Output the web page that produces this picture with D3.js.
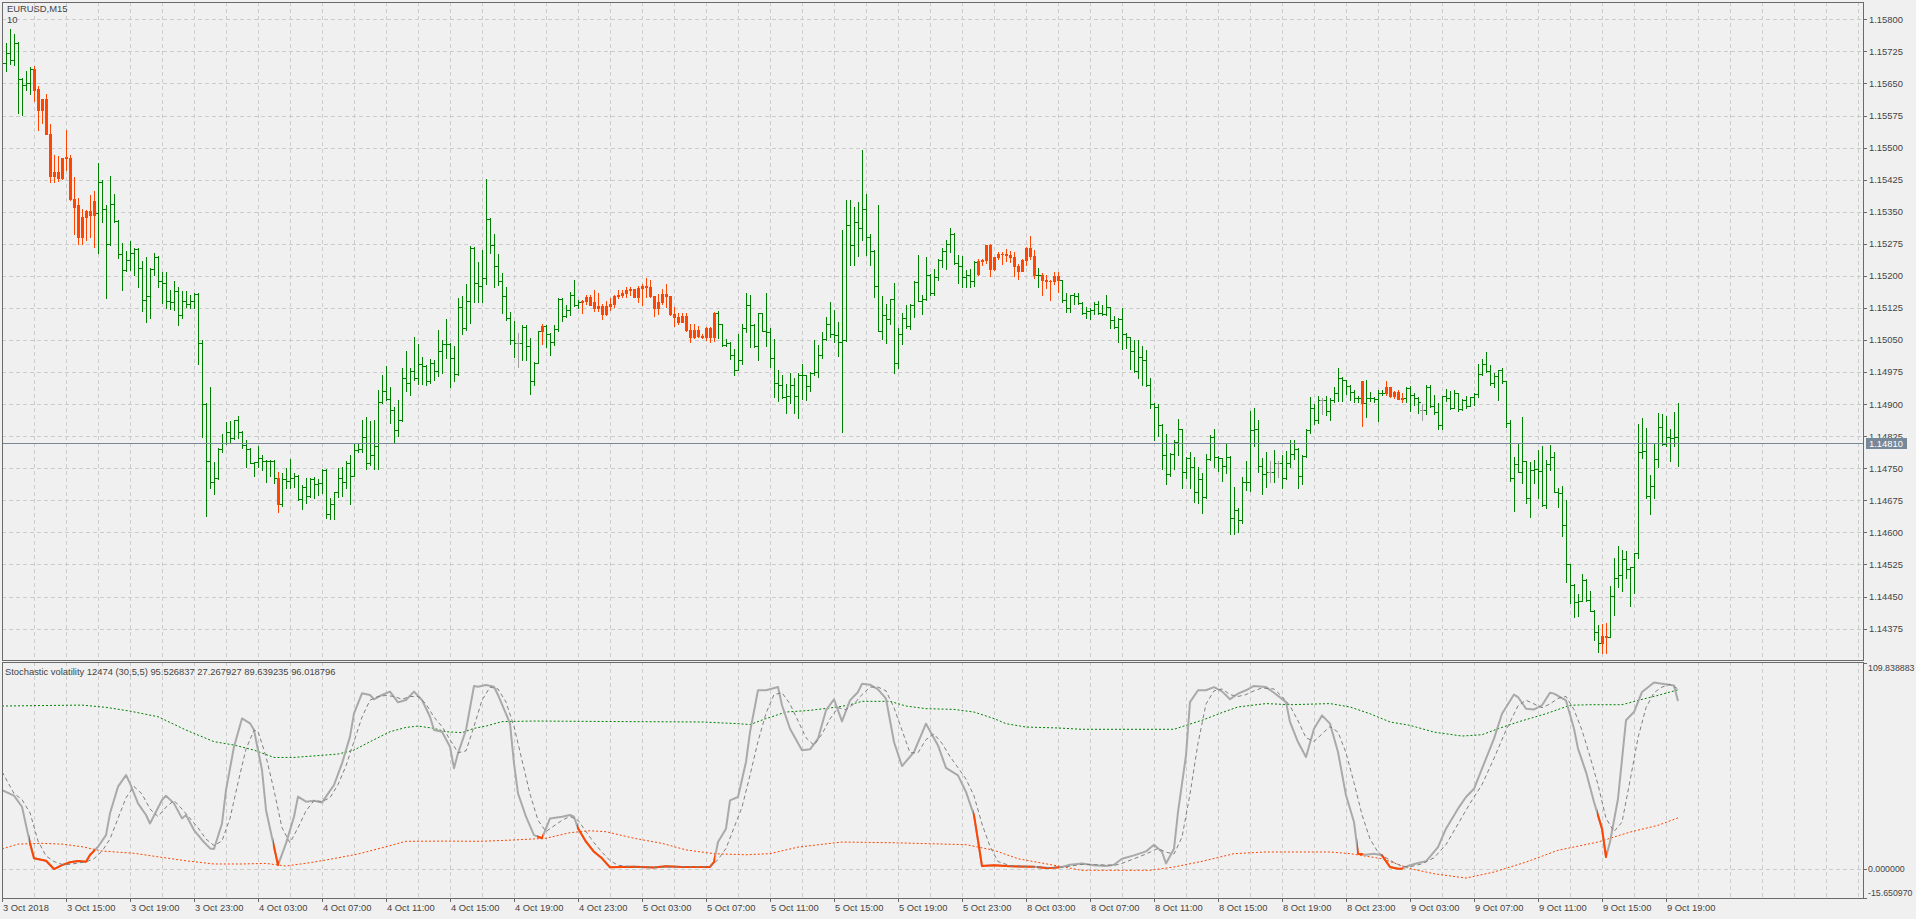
<!DOCTYPE html>
<html><head><meta charset="utf-8">
<script src="https://cdn.jsdelivr.net/npm/d3@7"></script>
<style>
html,body{margin:0;padding:0;background:#f0f0f0;overflow:hidden}
svg{display:block;font-family:"Liberation Sans",Arial,sans-serif}
</style></head><body>
<svg id="c" width="1916" height="919"></svg>
<script>
// ---------------- DATA ----------------
const symbolTitle = "EURUSD,M15";
const subTitle = "10";
const timeLabels = ["3 Oct 2018","3 Oct 15:00","3 Oct 19:00","3 Oct 23:00","4 Oct 03:00","4 Oct 07:00","4 Oct 11:00","4 Oct 15:00","4 Oct 19:00","4 Oct 23:00","5 Oct 03:00","5 Oct 07:00","5 Oct 11:00","5 Oct 15:00","5 Oct 19:00","5 Oct 23:00","8 Oct 03:00","8 Oct 07:00","8 Oct 11:00","8 Oct 15:00","8 Oct 19:00","8 Oct 23:00","9 Oct 03:00","9 Oct 07:00","9 Oct 11:00","9 Oct 15:00","9 Oct 19:00"];
const timeLabelBars = [0,16,32,48,64,80,96,112,128,144,160,176,192,208,224,240,256,272,288,304,320,336,352,368,384,400,416];
const priceTicks = [1.15800,1.15725,1.15650,1.15575,1.15500,1.15425,1.15350,1.15275,1.15200,1.15125,1.15050,1.14975,1.14900,1.14825,1.14750,1.14675,1.14600,1.14525,1.14450,1.14375];
const lastPrice = 1.14810;

const open = [
1.15693,1.15697,1.15722,1.15705,1.15744,1.15660,1.15646,1.15650,1.15684,1.15637,
1.15588,1.15614,1.15532,1.15434,1.15444,1.15430,1.15475,1.15475,1.15379,1.15366,
1.15290,1.15338,1.15352,1.15343,1.15346,1.15420,1.15356,1.15275,1.15367,1.15328,
1.15252,1.15213,1.15237,1.15253,1.15262,1.15218,1.15143,1.15152,1.15215,1.15243,
1.15189,1.15183,1.15141,1.15140,1.15165,1.15108,1.15142,1.15135,1.15141,1.15157,
1.15042,1.14900,1.14766,1.14717,1.14727,1.14795,1.14809,1.14836,1.14820,1.14863,
1.14836,1.14805,1.14795,1.14762,1.14764,1.14775,1.14768,1.14766,1.14767,1.14728,
1.14666,1.14724,1.14721,1.14727,1.14732,1.14678,1.14707,1.14686,1.14724,1.14713,
1.14715,1.14746,1.14643,1.14666,1.14694,1.14727,1.14717,1.14762,1.14733,1.14793,
1.14794,1.14824,1.14762,1.14780,1.14803,1.14904,1.14931,1.14912,1.14887,1.14840,
1.14863,1.14962,1.14949,1.14978,1.14962,1.14993,1.14990,1.14953,1.14996,1.14978,
1.15024,1.15040,1.15041,1.15007,1.14970,1.15127,1.15079,1.15141,1.15265,1.15184,
1.15177,1.15194,1.15333,1.15272,1.15224,1.15189,1.15154,1.15102,1.15050,1.15042,
1.15042,1.15081,1.15036,1.14954,1.14997,1.15070,1.15083,1.15063,1.15046,1.15075,
1.15145,1.15106,1.15121,1.15155,1.15131,1.15138,1.15141,1.15151,1.15138,1.15124,
1.15129,1.15110,1.15129,1.15134,1.15153,1.15156,1.15159,1.15166,1.15169,1.15151,
1.15172,1.15176,1.15174,1.15152,1.15125,1.15138,1.15157,1.15152,1.15110,1.15104,
1.15092,1.15106,1.15073,1.15056,1.15073,1.15059,1.15058,1.15077,1.15056,1.15113,
1.15087,1.15038,1.15043,1.15016,1.14981,1.15003,1.15077,1.15131,1.15086,1.15035,
1.15112,1.15072,1.15069,1.15009,1.14950,1.14944,1.14917,1.14919,1.14944,1.14920,
1.14968,1.14967,1.14942,1.14972,1.14974,1.15014,1.15053,1.15088,1.15063,1.15061,
1.15046,1.15050,1.15318,1.15273,1.15326,1.15312,1.15357,1.15291,1.15258,1.15177,
1.15072,1.15108,1.15099,1.15145,1.14997,1.15065,1.15102,1.15082,1.15131,1.15186,
1.15142,1.15145,1.15203,1.15159,1.15198,1.15238,1.15258,1.15274,1.15299,1.15229,
1.15223,1.15198,1.15201,1.15187,1.15205,1.15234,1.15238,1.15272,1.15215,1.15243,
1.15252,1.15250,1.15248,1.15244,1.15223,1.15212,1.15237,1.15266,1.15247,1.15201,
1.15202,1.15190,1.15187,1.15188,1.15199,1.15190,1.15143,1.15126,1.15155,1.15153,
1.15137,1.15113,1.15118,1.15121,1.15134,1.15112,1.15110,1.15127,1.15096,1.15081,
1.15099,1.15064,1.15056,1.15025,1.14978,1.15011,1.15003,1.14944,1.14900,1.14894,
1.14851,1.14781,1.14736,1.14783,1.14812,1.14841,1.14741,1.14775,1.14754,1.14694,
1.14724,1.14682,1.14772,1.14822,1.14776,1.14773,1.14755,1.14777,1.14633,1.14653,
1.14628,1.14717,1.14719,1.14840,1.14843,1.14755,1.14737,1.14742,1.14742,1.14762,
1.14762,1.14727,1.14762,1.14783,1.14794,1.14732,1.14779,1.14840,1.14890,1.14863,
1.14910,1.14910,1.14884,1.14910,1.14927,1.14960,1.14956,1.14943,1.14929,1.14915,
1.14953,1.14903,1.14914,1.14915,1.14911,1.14925,1.14927,1.14939,1.14920,1.14928,
1.14912,1.14914,1.14937,1.14921,1.14914,1.14886,1.14886,1.14939,1.14895,1.14881,
1.14851,1.14918,1.14914,1.14892,1.14925,1.14888,1.14910,1.14896,1.14916,1.14924,
1.14970,1.14995,1.14978,1.14949,1.14966,1.14980,1.14953,1.14855,1.14727,1.14759,
1.14742,1.14766,1.14680,1.14746,1.14748,1.14744,1.14664,1.14760,1.14776,1.14695,
1.14693,1.14617,1.14525,1.14477,1.14438,1.14440,1.14489,1.14442,1.14417,1.14366,
1.14341,1.14358,1.14356,1.14452,1.14493,1.14500,1.14537,1.14514,1.14518,1.14551,
1.14789,1.14791,1.14685,1.14709,1.14771,1.14847,1.14806,1.14824,1.14820,1.14822];

const high = [
1.15717,1.15744,1.15777,1.15766,1.15746,1.15662,1.15679,1.15688,1.15691,1.15644,
1.15614,1.15625,1.15555,1.15483,1.15480,1.15475,1.15540,1.15483,1.15431,1.15383,
1.15357,1.15354,1.15389,1.15399,1.15465,1.15424,1.15366,1.15434,1.15391,1.15330,
1.15276,1.15257,1.15282,1.15265,1.15266,1.15235,1.15243,1.15218,1.15253,1.15247,
1.15208,1.15208,1.15166,1.15189,1.15173,1.15165,1.15165,1.15155,1.15161,1.15159,
1.15050,1.14902,1.14939,1.14764,1.14797,1.14830,1.14858,1.14861,1.14863,1.14873,
1.14838,1.14815,1.14797,1.14764,1.14802,1.14781,1.14770,1.14770,1.14769,1.14742,
1.14738,1.14750,1.14771,1.14738,1.14734,1.14710,1.14728,1.14728,1.14730,1.14724,
1.14748,1.14748,1.14680,1.14694,1.14750,1.14752,1.14766,1.14780,1.14806,1.14806,
1.14863,1.14871,1.14861,1.14862,1.14933,1.14968,1.14989,1.14939,1.14894,1.14910,
1.14985,1.15024,1.14985,1.15056,1.15040,1.15011,1.14992,1.15005,1.15003,1.15074,
1.15050,1.15098,1.15042,1.15037,1.15148,1.15153,1.15180,1.15270,1.15267,1.15233,
1.15261,1.15426,1.15335,1.15297,1.15250,1.15206,1.15175,1.15116,1.15095,1.15066,
1.15085,1.15085,1.15054,1.14999,1.15071,1.15087,1.15085,1.15066,1.15085,1.15149,
1.15149,1.15131,1.15163,1.15191,1.15143,1.15143,1.15155,1.15155,1.15168,1.15159,
1.15134,1.15141,1.15149,1.15155,1.15168,1.15166,1.15174,1.15174,1.15170,1.15176,
1.15180,1.15194,1.15191,1.15153,1.15157,1.15170,1.15180,1.15154,1.15127,1.15112,
1.15113,1.15112,1.15088,1.15088,1.15083,1.15063,1.15081,1.15081,1.15116,1.15117,
1.15088,1.15053,1.15046,1.15028,1.15065,1.15088,1.15159,1.15155,1.15088,1.15114,
1.15113,1.15159,1.15079,1.15053,1.14981,1.14968,1.14946,1.14972,1.14962,1.14973,
1.14995,1.14969,1.14974,1.15050,1.15038,1.15069,1.15104,1.15140,1.15121,1.15092,
1.15308,1.15377,1.15378,1.15361,1.15373,1.15494,1.15392,1.15297,1.15260,1.15365,
1.15152,1.15134,1.15146,1.15184,1.15077,1.15114,1.15133,1.15135,1.15188,1.15248,
1.15155,1.15243,1.15205,1.15215,1.15240,1.15264,1.15283,1.15311,1.15300,1.15248,
1.15247,1.15213,1.15217,1.15234,1.15239,1.15240,1.15273,1.15275,1.15244,1.15256,
1.15256,1.15262,1.15258,1.15255,1.15227,1.15240,1.15268,1.15293,1.15261,1.15219,
1.15207,1.15203,1.15191,1.15208,1.15208,1.15191,1.15159,1.15156,1.15160,1.15159,
1.15138,1.15127,1.15124,1.15139,1.15141,1.15133,1.15155,1.15128,1.15106,1.15102,
1.15126,1.15066,1.15058,1.15050,1.15050,1.15036,1.15027,1.14960,1.14902,1.14900,
1.14853,1.14830,1.14785,1.14816,1.14865,1.14843,1.14776,1.14789,1.14777,1.14754,
1.14738,1.14783,1.14829,1.14842,1.14779,1.14775,1.14807,1.14779,1.14707,1.14656,
1.14730,1.14766,1.14885,1.14890,1.14864,1.14775,1.14787,1.14766,1.14793,1.14766,
1.14781,1.14791,1.14815,1.14816,1.14797,1.14780,1.14843,1.14917,1.14900,1.14919,
1.14914,1.14919,1.14914,1.14939,1.14985,1.14963,1.14957,1.14945,1.14933,1.14919,
1.14955,1.14956,1.14929,1.14917,1.14933,1.14932,1.14953,1.14941,1.14931,1.14933,
1.14925,1.14939,1.14942,1.14925,1.14917,1.14900,1.14945,1.14945,1.14921,1.14902,
1.14919,1.14935,1.14931,1.14933,1.14927,1.14911,1.14919,1.14917,1.14927,1.14995,
1.15005,1.15023,1.14992,1.14972,1.14981,1.14984,1.14955,1.14863,1.14777,1.14806,
1.14869,1.14768,1.14764,1.14769,1.14793,1.14803,1.14769,1.14805,1.14787,1.14703,
1.14709,1.14676,1.14527,1.14479,1.14455,1.14502,1.14490,1.14463,1.14419,1.14384,
1.14386,1.14389,1.14475,1.14540,1.14568,1.14560,1.14557,1.14519,1.14553,1.14854,
1.14867,1.14845,1.14734,1.14807,1.14879,1.14877,1.14872,1.14842,1.14882,1.14902];

const low = [
1.15674,1.15678,1.15696,1.15692,1.15580,1.15576,1.15635,1.15625,1.15609,1.15541,
1.15558,1.15531,1.15420,1.15420,1.15423,1.15427,1.15448,1.15378,1.15298,1.15275,
1.15275,1.15284,1.15292,1.15268,1.15254,1.15327,1.15149,1.15272,1.15327,1.15241,
1.15167,1.15211,1.15214,1.15202,1.15175,1.15118,1.15091,1.15102,1.15202,1.15173,
1.15137,1.15124,1.15122,1.15120,1.15085,1.15101,1.15128,1.15126,1.15126,1.14994,
1.14822,1.14639,1.14705,1.14690,1.14725,1.14789,1.14807,1.14809,1.14818,1.14820,
1.14798,1.14754,1.14762,1.14732,1.14754,1.14745,1.14717,1.14731,1.14715,1.14647,
1.14662,1.14703,1.14703,1.14707,1.14676,1.14654,1.14668,1.14684,1.14680,1.14688,
1.14693,1.14633,1.14632,1.14632,1.14682,1.14685,1.14705,1.14666,1.14733,1.14789,
1.14789,1.14748,1.14758,1.14748,1.14748,1.14902,1.14910,1.14857,1.14812,1.14826,
1.14861,1.14931,1.14922,1.14957,1.14946,1.14947,1.14945,1.14950,1.14957,1.14966,
1.14972,1.15007,1.14941,1.14953,1.14968,1.15063,1.15074,1.15089,1.15138,1.15138,
1.15140,1.15180,1.15253,1.15173,1.15179,1.15113,1.15097,1.15040,1.15011,1.14986,
1.15003,1.15003,1.14923,1.14945,1.14996,1.15040,1.15034,1.15015,1.15038,1.15071,
1.15095,1.15104,1.15108,1.15129,1.15124,1.15113,1.15134,1.15131,1.15118,1.15117,
1.15099,1.15109,1.15120,1.15127,1.15148,1.15151,1.15151,1.15155,1.15150,1.15139,
1.15131,1.15151,1.15151,1.15106,1.15110,1.15135,1.15127,1.15108,1.15083,1.15088,
1.15091,1.15071,1.15046,1.15054,1.15057,1.15055,1.15050,1.15046,1.15047,1.15055,
1.15035,1.15035,1.15005,1.14969,1.14979,1.14993,1.15069,1.15034,1.15034,1.15004,
1.15071,1.15035,1.14987,1.14917,1.14908,1.14915,1.14880,1.14903,1.14880,1.14868,
1.14913,1.14909,1.14931,1.14968,1.14964,1.15009,1.15051,1.15057,1.15046,1.15012,
1.14835,1.15048,1.15226,1.15225,1.15246,1.15283,1.15248,1.15225,1.15151,1.15071,
1.15052,1.15044,1.15088,1.14973,1.14985,1.15040,1.15079,1.15075,1.15104,1.15141,
1.15110,1.15144,1.15155,1.15156,1.15190,1.15221,1.15216,1.15256,1.15227,1.15184,
1.15174,1.15174,1.15174,1.15177,1.15203,1.15225,1.15230,1.15199,1.15213,1.15239,
1.15227,1.15235,1.15233,1.15200,1.15193,1.15211,1.15225,1.15239,1.15195,1.15174,
1.15155,1.15172,1.15143,1.15182,1.15163,1.15138,1.15116,1.15116,1.15134,1.15135,
1.15110,1.15102,1.15099,1.15110,1.15110,1.15108,1.15108,1.15079,1.15077,1.15046,
1.15028,1.15031,1.14982,1.14976,1.14960,1.14945,1.14943,1.14892,1.14816,1.14826,
1.14748,1.14713,1.14733,1.14748,1.14781,1.14705,1.14727,1.14703,1.14672,1.14668,
1.14646,1.14681,1.14769,1.14752,1.14744,1.14721,1.14738,1.14596,1.14596,1.14602,
1.14623,1.14699,1.14698,1.14801,1.14742,1.14691,1.14707,1.14719,1.14719,1.14730,
1.14705,1.14726,1.14754,1.14771,1.14705,1.14713,1.14777,1.14832,1.14853,1.14855,
1.14878,1.14875,1.14864,1.14906,1.14907,1.14907,1.14923,1.14910,1.14904,1.14906,
1.14850,1.14871,1.14908,1.14906,1.14861,1.14921,1.14921,1.14917,1.14914,1.14911,
1.14906,1.14906,1.14884,1.14898,1.14880,1.14863,1.14878,1.14894,1.14878,1.14843,
1.14842,1.14908,1.14889,1.14890,1.14884,1.14886,1.14890,1.14895,1.14898,1.14917,
1.14968,1.14974,1.14945,1.14941,1.14910,1.14950,1.14847,1.14721,1.14650,1.14741,
1.14716,1.14668,1.14637,1.14715,1.14681,1.14662,1.14658,1.14746,1.14694,1.14660,
1.14592,1.14485,1.14436,1.14403,1.14405,1.14439,1.14440,1.14416,1.14348,1.14321,
1.14319,1.14319,1.14355,1.14407,1.14473,1.14464,1.14493,1.14428,1.14459,1.14541,
1.14775,1.14680,1.14642,1.14680,1.14754,1.14805,1.14802,1.14768,1.14802,1.14755];

const close = [
1.15697,1.15722,1.15705,1.15744,1.15660,1.15646,1.15650,1.15684,1.15635,1.15588,
1.15614,1.15531,1.15434,1.15444,1.15430,1.15475,1.15477,1.15379,1.15362,1.15290,
1.15338,1.15352,1.15343,1.15375,1.15420,1.15356,1.15275,1.15367,1.15328,1.15252,
1.15213,1.15237,1.15253,1.15262,1.15218,1.15143,1.15152,1.15215,1.15243,1.15189,
1.15183,1.15141,1.15140,1.15165,1.15108,1.15142,1.15135,1.15141,1.15157,1.15042,
1.14900,1.14766,1.14717,1.14727,1.14795,1.14809,1.14836,1.14820,1.14863,1.14836,
1.14805,1.14795,1.14762,1.14764,1.14775,1.14768,1.14766,1.14767,1.14727,1.14666,
1.14724,1.14721,1.14727,1.14732,1.14678,1.14707,1.14686,1.14724,1.14713,1.14715,
1.14746,1.14643,1.14666,1.14694,1.14727,1.14717,1.14762,1.14733,1.14793,1.14794,
1.14824,1.14762,1.14780,1.14803,1.14904,1.14931,1.14912,1.14887,1.14840,1.14863,
1.14962,1.14949,1.14978,1.14962,1.14993,1.14990,1.14953,1.14996,1.14978,1.15024,
1.15040,1.15041,1.15007,1.14970,1.15127,1.15079,1.15141,1.15265,1.15184,1.15177,
1.15194,1.15333,1.15272,1.15224,1.15189,1.15154,1.15102,1.15050,1.15042,1.15042,
1.15081,1.15036,1.14954,1.14997,1.15070,1.15083,1.15063,1.15046,1.15075,1.15145,
1.15106,1.15121,1.15155,1.15131,1.15138,1.15141,1.15151,1.15133,1.15124,1.15129,
1.15110,1.15129,1.15134,1.15153,1.15156,1.15159,1.15166,1.15169,1.15151,1.15172,
1.15176,1.15174,1.15152,1.15125,1.15138,1.15157,1.15152,1.15110,1.15104,1.15092,
1.15106,1.15073,1.15056,1.15073,1.15059,1.15058,1.15077,1.15056,1.15113,1.15087,
1.15038,1.15043,1.15016,1.14981,1.15003,1.15077,1.15131,1.15086,1.15035,1.15112,
1.15072,1.15069,1.15009,1.14950,1.14944,1.14917,1.14919,1.14944,1.14920,1.14968,
1.14967,1.14942,1.14972,1.14974,1.15014,1.15053,1.15088,1.15063,1.15061,1.15046,
1.15050,1.15318,1.15273,1.15326,1.15312,1.15357,1.15291,1.15258,1.15177,1.15072,
1.15108,1.15099,1.15145,1.14997,1.15065,1.15102,1.15082,1.15131,1.15186,1.15142,
1.15145,1.15203,1.15159,1.15198,1.15238,1.15258,1.15274,1.15299,1.15229,1.15223,
1.15198,1.15201,1.15187,1.15233,1.15234,1.15238,1.15272,1.15215,1.15243,1.15252,
1.15250,1.15248,1.15244,1.15223,1.15212,1.15237,1.15266,1.15247,1.15201,1.15202,
1.15190,1.15187,1.15188,1.15199,1.15190,1.15143,1.15126,1.15155,1.15153,1.15137,
1.15113,1.15118,1.15121,1.15134,1.15112,1.15110,1.15127,1.15096,1.15081,1.15099,
1.15064,1.15056,1.15025,1.14978,1.15011,1.15003,1.14944,1.14900,1.14894,1.14851,
1.14781,1.14736,1.14783,1.14812,1.14841,1.14741,1.14775,1.14754,1.14694,1.14724,
1.14682,1.14772,1.14822,1.14776,1.14773,1.14755,1.14777,1.14633,1.14653,1.14628,
1.14717,1.14719,1.14840,1.14843,1.14755,1.14737,1.14742,1.14742,1.14762,1.14762,
1.14727,1.14762,1.14783,1.14794,1.14732,1.14779,1.14840,1.14890,1.14863,1.14910,
1.14910,1.14884,1.14910,1.14927,1.14960,1.14956,1.14943,1.14929,1.14915,1.14914,
1.14903,1.14914,1.14915,1.14911,1.14925,1.14927,1.14939,1.14920,1.14928,1.14912,
1.14914,1.14937,1.14921,1.14914,1.14906,1.14886,1.14939,1.14895,1.14881,1.14851,
1.14918,1.14914,1.14892,1.14925,1.14888,1.14910,1.14896,1.14916,1.14924,1.14970,
1.14995,1.14978,1.14949,1.14966,1.14980,1.14953,1.14855,1.14727,1.14759,1.14742,
1.14766,1.14680,1.14746,1.14748,1.14744,1.14664,1.14760,1.14776,1.14695,1.14693,
1.14617,1.14525,1.14477,1.14438,1.14440,1.14489,1.14442,1.14417,1.14366,1.14341,
1.14358,1.14356,1.14452,1.14493,1.14500,1.14537,1.14514,1.14518,1.14551,1.14789,
1.14791,1.14685,1.14709,1.14771,1.14847,1.14806,1.14824,1.14820,1.14822,1.14810];

// bar ranges where the indicator is in its low-volatility state (drawn red)
const lowVolRanges = [[8,23],[69,69],[135,135],[145,178],[244,258],[260,264],[340,340],[346,350],[400,401]];

const indicatorTitle = "Stochastic volatility 12474 (30,5,5)";
const indicatorLast = [95.526837, 27.267927, 89.639235, 96.018796];
const indTicks = [109.838883, 0, -15.650970];

// [bar index, value]
const mainLine = [[0,42.1],[3,39.1],[5,33.2],[7,13.7],[8,5.7],[11,4.4],[13,0],[15,2.1],[17,3.6],[19,4.3],[21,3.9],[22,7.5],[24,11.9],[26,18.1],[27,29.7],[29,43.9],[31,50.1],[32,45.7],[34,35.0],[36,28.8],[37,24.3],[40,36.8],[41,39.1],[43,35.0],[45,27.0],[46,28.8],[48,20.8],[50,15.5],[52,11.0],[53,10.7],[55,24.3],[56,42.1],[58,65.2],[60,80.3],[62,77.7],[63,74.1],[65,52.8],[66,31.5],[69,2.1],[71,13.7],[73,27.9],[74,38.6],[76,35.9],[78,36.4],[80,35.4],[81,38.6],[83,44.8],[85,56.3],[87,70.6],[88,83.0],[90,93.7],[92,92.8],[93,90.5],[95,92.8],[97,94.6],[99,88.9],[101,90.1],[103,94.6],[105,90.1],[107,81.2],[108,74.1],[110,73.2],[112,65.2],[113,53.7],[114,61.7],[116,74.1],[118,97.6],[119,97.2],[121,98.1],[123,97.2],[124,92.8],[127,77.7],[128,56.3],[129,40.3],[131,27.9],[133,18.1],[135,16.4],[136,21.7],[137,27.0],[140,27.9],[142,28.8],[143,27.9],[144,21.7],[146,14.6],[148,9.2],[150,5.7],[152,0.9],[158,1.2],[163,0.8],[166,1.5],[170,1.1],[177,1.1],[178,3.7],[179,14.4],[181,21.5],[182,36.6],[184,38.4],[186,57.1],[187,73.0],[189,95.3],[191,95.3],[194,97.0],[195,87.3],[197,74.8],[200,63.3],[202,63.8],[204,69.5],[206,84.6],[208,90.5],[210,78.7],[212,89.9],[214,94.4],[215,98.8],[217,98.3],[219,95.8],[221,90.8],[223,67.7],[225,54.9],[228,62.4],[231,77.5],[234,65.9],[236,53.9],[239,49.9],[241,41.1],[243,28.6],[244,15.3],[245,1.6],[248,2.0],[251,1.6],[254,1.4],[258,1.2],[261,0.5],[263,0.7],[265,1.1],[267,2.3],[270,3.0],[273,2.0],[276,1.6],[278,2.3],[280,5.5],[283,7.3],[286,9.4],[288,13.0],[290,9.1],[291,3.0],[293,10.8],[294,30.4],[296,60.6],[297,89.0],[299,95.3],[301,95.3],[303,97.0],[305,94.7],[307,90.5],[309,93.5],[311,95.3],[313,97.6],[316,97.0],[318,94.0],[321,89.0],[322,78.4],[324,67.7],[326,59.7],[328,74.8],[330,81.9],[332,77.5],[334,62.4],[336,39.3],[338,25.1],[339,8.2],[341,7.6],[343,8.2],[345,7.3],[347,1.1],[349,0.2],[350,0.2],[352,2.0],[354,3.2],[356,4.1],[359,11.7],[361,21.5],[364,32.2],[366,38.4],[368,42.8],[370,53.5],[373,69.5],[375,82.8],[378,93.0],[379,91.7],[381,85.5],[383,85.1],[385,87.3],[387,94.0],[388,93.5],[391,89.9],[393,74.8],[394,64.2],[396,51.7],[398,35.7],[400,21.5],[401,6.4],[402,14.4],[404,37.5],[406,79.3],[408,83.7],[410,94.4],[413,99.4],[415,98.8],[418,97.9],[419,89.64]];

const signalLine = [[0,51.9],[3,40.3],[5,37],[7,30],[9,15],[11,7],[13,4],[15,2.5],[17,2.5],[19,3.2],[21,3.8],[23,5.5],[25,9.5],[27,16],[29,27],[31,38],[33,44],[35,40],[37,32],[39,28],[41,33],[43,36.5],[45,32],[47,27],[49,22],[51,16],[53,12.5],[55,15],[57,27],[59,46],[61,64],[63,74],[64,73.5],[66,60],[68,42],[70,22],[72,14],[74,22],[76,31],[78,36.5],[80,36],[82,38],[84,45],[86,55],[88,68],[90,81],[92,90],[94,92],[96,92.5],[98,92],[100,90.5],[102,92],[104,92],[106,88],[108,81],[110,76],[112,69],[114,62],[116,63],[118,76],[120,90],[122,97],[124,96],[126,89],[128,76],[130,58],[132,40],[134,26],[136,20],[138,23],[140,26],[142,28],[144,26],[146,20],[148,14],[150,9],[152,4.5],[154,2],[158,1.1],[163,0.9],[170,1.2],[177,1.2],[179,5],[181,11],[183,22],[185,33],[187,50],[189,68],[191,83],[193,93],[195,94],[197,88],[199,79],[201,70],[203,66],[205,72],[207,80],[209,86],[211,85],[213,88],[215,93],[217,97],[219,97],[221,95],[223,86],[225,74],[227,62],[229,62],[231,69],[233,72],[235,67],[237,60],[239,54],[241,48],[243,39],[245,24],[247,12],[249,4],[252,1.8],[256,1.4],[262,0.8],[266,1.2],[270,2.5],[274,2.3],[278,1.9],[280,3],[283,5.5],[286,8],[289,11],[291,9],[293,8],[295,17],[297,40],[299,67],[301,88],[303,95],[305,96],[307,93],[309,92],[311,93],[313,95],[315,96.5],[318,96],[320,92],[322,87],[324,79],[326,70],[328,68],[330,72],[332,76],[334,73],[336,62],[338,46],[340,29],[342,16],[344,9],[346,6],[348,3.5],[350,1.5],[352,1.2],[355,2.8],[358,6],[361,13],[364,24],[367,35],[370,45],[373,59],[376,74],[379,87],[381,90],[383,88],[385,86],[387,88],[389,91],[391,92],[393,85],[395,74],[397,60],[399,45],[401,27],[403,20],[405,25],[407,47],[409,70],[411,86],[413,94],[415,97],[417,98.5],[419,96.02]];

const upperLevel = [[0,86.9],[20,87.4],[26,86.2],[32,84.2],[39,81.2],[46,74.1],[53,67.9],[58,66.1],[63,63.4],[68,59.5],[73,59.5],[78,60.3],[84,61.3],[88,63.4],[92,67.9],[97,73.2],[101,75.5],[104,76.2],[108,75.0],[111,73.2],[115,72.7],[118,75.0],[121,76.2],[125,78.6],[133,78.9],[156,78.6],[175,78.4],[184,77.5],[187,77.0],[191,80.2],[196,83.7],[202,84.6],[209,86.4],[212,87.6],[215,89.4],[222,89.4],[226,86.9],[231,85.5],[238,85.1],[243,83.7],[248,80.2],[251,77.5],[256,75.7],[264,75.2],[270,74.5],[283,74.5],[293,74.5],[296,76.6],[300,79.3],[305,83.4],[309,86.4],[316,88.2],[322,87.6],[332,88.2],[337,86.4],[342,82.8],[347,78.4],[352,76.6],[358,73.0],[365,70.9],[370,71.6],[374,74.8],[379,78.4],[386,82.8],[392,87.3],[397,87.6],[405,87.6],[409,89.9],[414,92.6],[419,95.53]];

const lowerLevel = [[0,10.7],[4,13.3],[10,13.7],[15,13.3],[20,11.9],[25,9.6],[33,8.4],[40,6.2],[46,4.4],[53,2.7],[60,2.7],[66,3.0],[71,1.6],[77,3.4],[82,5.2],[89,8.0],[96,11.9],[101,14.8],[111,14.9],[120,14.8],[128,15.5],[136,16.4],[142,19.4],[147,20.4],[151,19.9],[158,16.4],[165,13.7],[171,10.2],[178,8.2],[186,7.6],[192,8.2],[199,11.7],[210,14.4],[223,14.0],[241,13.0],[248,10.0],[254,5.5],[261,2.8],[270,-0.7],[287,-0.7],[293,1.1],[300,4.1],[308,8.2],[316,9.1],[332,9.1],[337,8.2],[345,5.5],[352,0.2],[358,-2.5],[366,-4.8],[373,-1.6],[381,3.7],[389,10.0],[399,14.4],[407,19.7],[414,23.3],[419,27.27]];

// ---------------- DRAWING ----------------
const W = 1916, H = 919;
const L = 2, R = 1863, T = 2, MB = 660, IT = 662, IB = 898;
const COL = {bg:"#f0f0f0", frame:"#6a6a6a", grid:"#cccccc", text:"#444444",
  up:"#008000", low:"#ff4500", doji:"#a0a0a0", main:"#a9a9a9", signal:"#808080", price:"#778899"};
const FS = "9.4px";

const svg = d3.select("#c");
svg.append("rect").attr("width", W).attr("height", H).attr("fill", COL.bg);

const x = d3.scaleLinear().domain([0, (R - L) / 4]).range([L, R]);
const y = d3.scaleLinear().domain([1.1430164, 1.1584046]).range([MB, T]);
const yi = d3.scaleLinear().domain([indTicks[2], indTicks[0]]).range([898.4, 663]);
const px = v => Math.round(v);

const defs = svg.append("defs");
defs.append("clipPath").attr("id", "clipMain").append("rect")
  .attr("x", L).attr("y", T).attr("width", R - L).attr("height", MB - T);
defs.append("clipPath").attr("id", "clipInd").append("rect")
  .attr("x", L).attr("y", IT).attr("width", R - L).attr("height", IB - IT);
const redClip = defs.append("clipPath").attr("id", "clipRed");
lowVolRanges.forEach(([a, b]) => {
  redClip.append("rect").attr("x", x(a - 1) - 1).attr("y", IT)
    .attr("width", x(b) - x(a - 1) + 2).attr("height", IB - IT);
});

// grid
const grid = svg.append("g").attr("stroke", COL.grid).attr("stroke-dasharray", "4,3")
  .attr("shape-rendering", "crispEdges");
const vBars = d3.range(8, (R - L) / 4, 8);
grid.append("g").selectAll("line").data(vBars).join("line")
  .attr("x1", d => px(x(d)) + 0.5).attr("x2", d => px(x(d)) + 0.5).attr("y1", T).attr("y2", MB);
grid.append("g").selectAll("line").data(vBars).join("line")
  .attr("x1", d => px(x(d)) + 0.5).attr("x2", d => px(x(d)) + 0.5).attr("y1", IT).attr("y2", IB);
grid.append("g").selectAll("line").data(priceTicks).join("line")
  .attr("x1", L).attr("x2", R).attr("y1", d => px(y(d)) + 0.5).attr("y2", d => px(y(d)) + 0.5);
grid.append("line").attr("x1", L).attr("x2", R)
  .attr("y1", px(yi(0)) + 0.5).attr("y2", px(yi(0)) + 0.5);

// price bars
const isLow = i => lowVolRanges.some(([a, b]) => i >= a && i <= b);
const barG = svg.append("g").attr("clip-path", "url(#clipMain)").attr("shape-rendering", "crispEdges");
barG.selectAll("g").data(d3.range(close.length)).join("g").each(function (i) {
  const g = d3.select(this);
  const xi = px(x(i));
  const yh = px(y(high[i])), yl = px(y(low[i]));
  const yo = px(y(open[i])), yc = px(y(close[i]));
  if (isLow(i)) {
    g.append("rect").attr("x", xi).attr("y", yh).attr("width", 1).attr("height", Math.max(1, yl - yh + 1)).attr("fill", COL.low);
    const top = Math.min(yo, yc), bot = Math.max(yo, yc);
    g.append("rect").attr("x", xi - 1).attr("y", top).attr("width", 3).attr("height", Math.max(1, bot - top + 1)).attr("fill", COL.low);
  } else {
    const c = open[i] === close[i] ? COL.doji : COL.up;
    g.append("rect").attr("x", xi).attr("y", yh).attr("width", 1).attr("height", Math.max(1, yl - yh + 1)).attr("fill", c);
    g.append("rect").attr("x", xi - 2).attr("y", yo).attr("width", 2).attr("height", 1).attr("fill", c);
    g.append("rect").attr("x", xi + 1).attr("y", yc).attr("width", 2).attr("height", 1).attr("fill", c);
  }
});

// current price line
const yLast = px(y(lastPrice));
svg.append("line").attr("x1", L).attr("x2", R).attr("y1", yLast + 0.5).attr("y2", yLast + 0.5)
  .attr("stroke", COL.price).attr("shape-rendering", "crispEdges");

// indicator lines
const indG = svg.append("g").attr("clip-path", "url(#clipInd)");
const line = d3.line().x(d => x(d[0])).y(d => yi(d[1]));
indG.append("path").attr("d", line(upperLevel)).attr("fill", "none")
  .attr("stroke", COL.up).attr("stroke-width", 1).attr("stroke-dasharray", "2,2");
indG.append("path").attr("d", line(lowerLevel)).attr("fill", "none")
  .attr("stroke", COL.low).attr("stroke-width", 1).attr("stroke-dasharray", "2,2");
indG.append("path").attr("d", line(mainLine)).attr("fill", "none")
  .attr("stroke", COL.main).attr("stroke-width", 2).attr("stroke-linejoin", "round");
indG.append("g").attr("clip-path", "url(#clipRed)").append("path").attr("d", line(mainLine))
  .attr("fill", "none").attr("stroke", COL.low).attr("stroke-width", 2).attr("stroke-linejoin", "round");
indG.append("path").attr("d", line(signalLine)).attr("fill", "none")
  .attr("stroke", COL.signal).attr("stroke-width", 1).attr("stroke-dasharray", "4,3");

// frames
const frame = svg.append("g").attr("fill", "none").attr("stroke", COL.frame).attr("shape-rendering", "crispEdges");
frame.append("rect").attr("x", L + 0.5).attr("y", T + 0.5).attr("width", R - L).attr("height", MB - T);
frame.append("rect").attr("x", L + 0.5).attr("y", IT + 0.5).attr("width", R - L).attr("height", IB - IT);

// price axis
const axG = svg.append("g").attr("font-size", FS).attr("fill", COL.text);
axG.selectAll("line").data(priceTicks).join("line")
  .attr("x1", R).attr("x2", R + 4).attr("y1", d => px(y(d)) + 0.5).attr("y2", d => px(y(d)) + 0.5)
  .attr("stroke", COL.frame).attr("shape-rendering", "crispEdges");
axG.selectAll("text").data(priceTicks).join("text")
  .attr("x", R + 6).attr("y", d => y(d) + 3.4).text(d => d.toFixed(5));

// current price label
svg.append("rect").attr("x", R + 3).attr("y", yLast - 5).attr("width", 41).attr("height", 11)
  .attr("fill", COL.price);
svg.append("text").attr("x", R + 6).attr("y", yLast + 4).attr("font-size", FS)
  .attr("fill", "#ffffff").text(lastPrice.toFixed(5));

// indicator axis
const iaG = svg.append("g").attr("font-size", "8.8px").attr("fill", COL.text);
iaG.selectAll("line").data(indTicks).join("line")
  .attr("x1", R).attr("x2", R + 4)
  .attr("y1", d => Math.min(IB, Math.max(IT + 1, px(yi(d)))) + 0.5)
  .attr("y2", d => Math.min(IB, Math.max(IT + 1, px(yi(d)))) + 0.5)
  .attr("stroke", COL.frame).attr("shape-rendering", "crispEdges");
iaG.selectAll("text").data(indTicks).join("text")
  .attr("x", R + 5).attr("y", d => Math.min(IB - 2, Math.max(IT + 9, yi(d) + 3.4)))
  .text(d => d.toFixed(6));

// time axis
const taG = svg.append("g").attr("font-size", FS).attr("fill", COL.text);
taG.selectAll("line").data(timeLabelBars).join("line")
  .attr("x1", d => px(x(d)) + 0.5).attr("x2", d => px(x(d)) + 0.5).attr("y1", IB).attr("y2", IB + 4)
  .attr("stroke", COL.frame).attr("shape-rendering", "crispEdges");
taG.selectAll("text").data(timeLabels).join("text")
  .attr("x", (d, k) => x(timeLabelBars[k]) + 1).attr("y", 911).text(d => d);

// titles
svg.append("text").attr("x", 7).attr("y", 12).attr("font-size", FS).attr("fill", COL.text).text(symbolTitle);
svg.append("text").attr("x", 7).attr("y", 23).attr("font-size", FS).attr("fill", COL.text).text(subTitle);
svg.append("text").attr("x", 5).attr("y", 675).attr("font-size", FS).attr("fill", COL.text)
  .text(indicatorTitle + " " + indicatorLast.map(v => v.toFixed(6)).join(" "));
</script>
</body></html>
